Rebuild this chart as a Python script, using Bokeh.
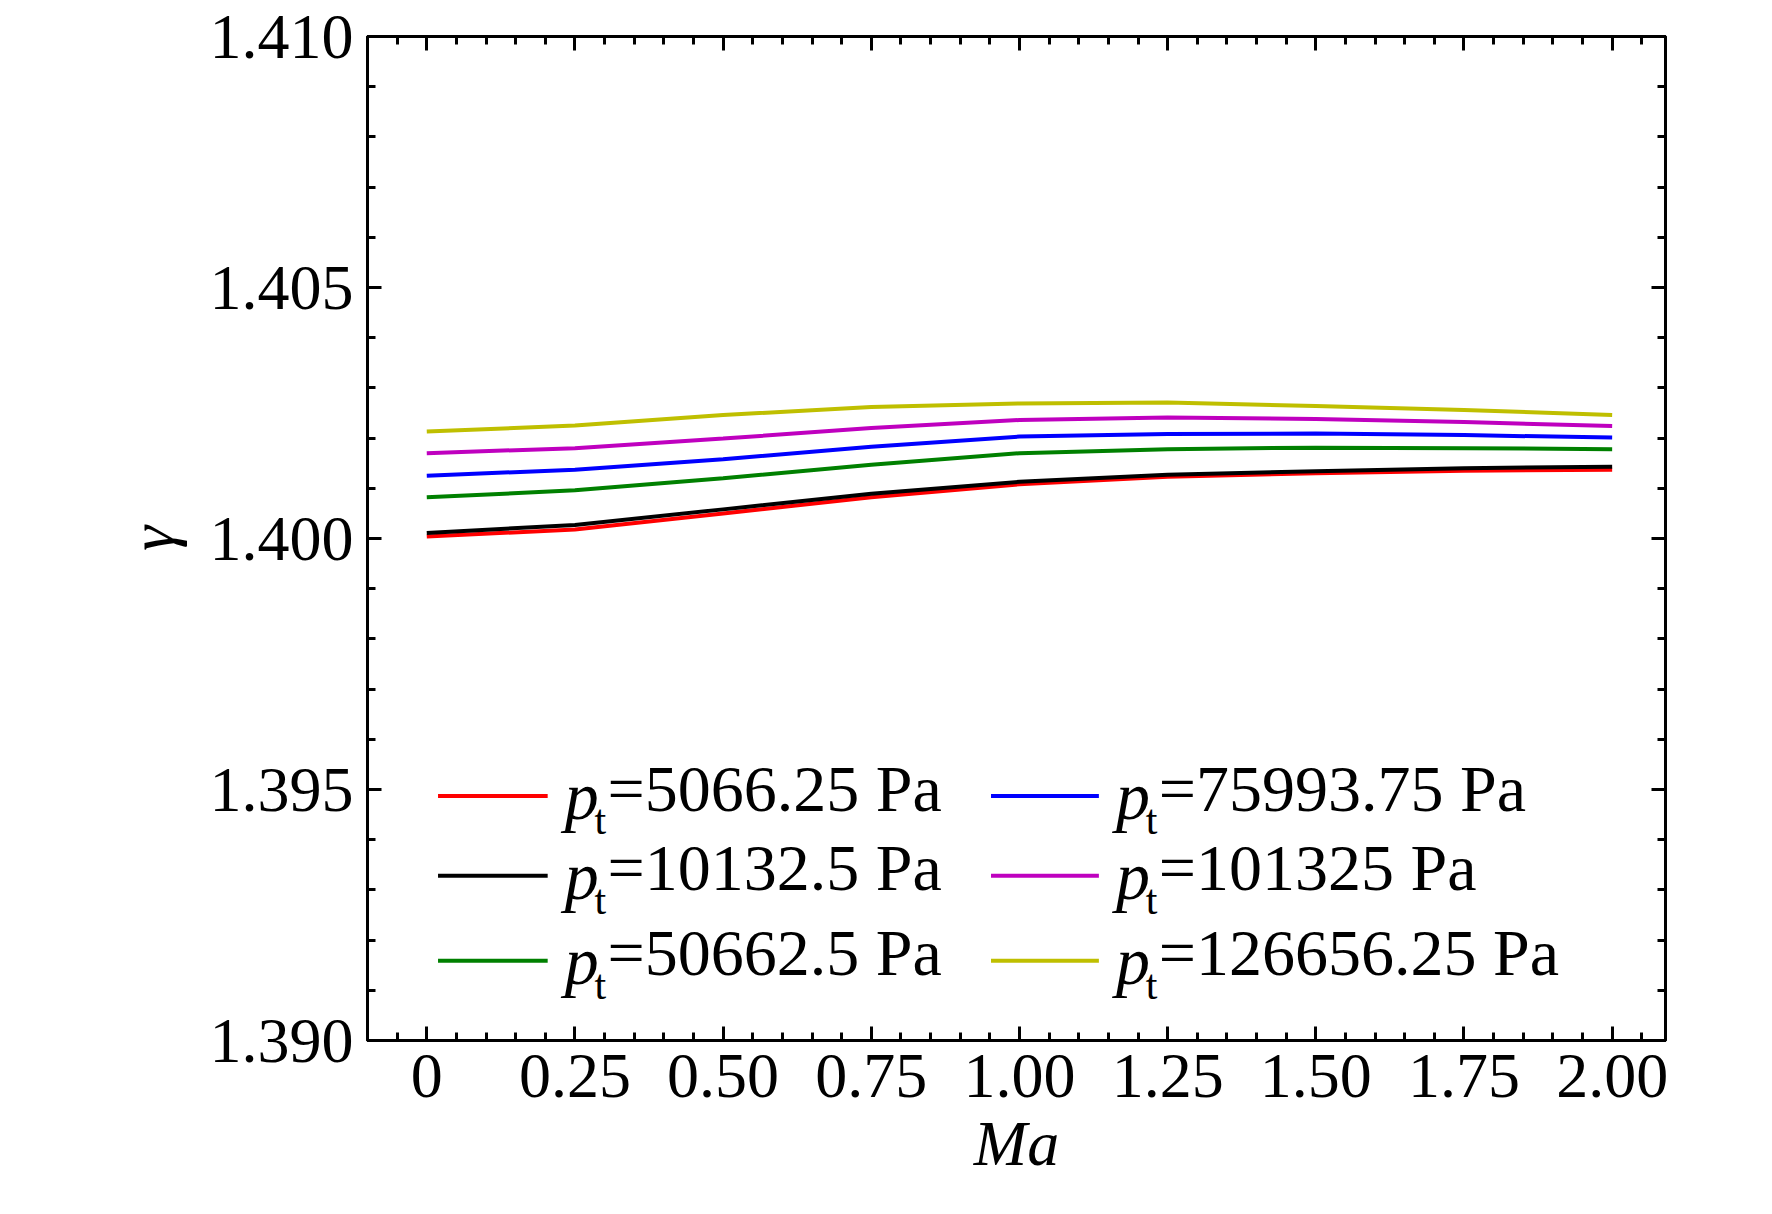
from bokeh.plotting import figure
from bokeh.embed import file_html
from bokeh.resources import INLINE
from bokeh.models import Range1d, FixedTicker, LinearAxis, PrintfTickFormatter
from bokeh.core.properties import value

ma = [0, 0.25, 0.5, 0.75, 1.0, 1.25, 1.5, 1.75, 2.0]
g_5066 = [1.40004, 1.40018, 1.40050, 1.40082, 1.40108, 1.40123, 1.40130, 1.40135, 1.40137]
g_10132 = [1.40011, 1.40027, 1.40058, 1.40089, 1.40113, 1.40127, 1.40134, 1.40140, 1.40143]
g_50662 = [1.40082, 1.40096, 1.40120, 1.40147, 1.40170, 1.40178, 1.40181, 1.40180, 1.40178]
g_75993 = [1.40125, 1.40137, 1.40158, 1.40183, 1.40203, 1.40208, 1.40209, 1.40206, 1.40201]
g_101325 = [1.40170, 1.40180, 1.40199, 1.40220, 1.40236, 1.40241, 1.40238, 1.40232, 1.40224]
g_126656 = [1.40213, 1.40225, 1.40246, 1.40262, 1.40269, 1.40271, 1.40264, 1.40256, 1.40246]
series = [g_5066, g_10132, g_50662, g_75993, g_101325, g_126656]
labels = ["=5066.25 Pa", "=10132.5 Pa", "=50662.5 Pa", "=75993.75 Pa", "=101325 Pa", "=126656.25 Pa"]
colors = ["#ff0000", "#000000", "#008000", "#0000ff", "#bf00bf", "#bfbf00"]
xticks = [0, 0.25, 0.5, 0.75, 1.0, 1.25, 1.5, 1.75, 2.0]
xtick_labels = {0: "0", 0.25: "0.25", 0.5: "0.50", 0.75: "0.75", 1.0: "1.00", 1.25: "1.25", 1.5: "1.50", 1.75: "1.75", 2.0: "2.00"}
yticks = [1.390, 1.395, 1.400, 1.405, 1.410]

FONT = "Liberation Serif"
p = figure(width=1756, height=1190, output_backend="svg", toolbar_location=None,
           x_range=Range1d(-0.10, 2.09), y_range=Range1d(1.390, 1.410),
           min_border_left=367, min_border_right=91, min_border_top=36, min_border_bottom=150)
p.xgrid.visible = False
p.ygrid.visible = False
p.outline_line_color = "black"
p.outline_line_width = 3

for ax in [p.xaxis[0], p.yaxis[0]]:
    ax.major_tick_in = 14; ax.major_tick_out = 0
    ax.minor_tick_in = 8; ax.minor_tick_out = 0
    ax.axis_line_width = 3; ax.major_tick_line_width = 3; ax.minor_tick_line_width = 3
    ax.major_label_text_font = FONT
    ax.major_label_text_font_size = "64px"
    ax.major_label_text_color = "black"
    ax.axis_label_text_font = FONT
    ax.axis_label_text_font_size = "64px"
    ax.axis_label_text_color = "black"
    ax.axis_label_text_font_style = "italic"
    ax.major_label_standoff = 14

p.xaxis.ticker = FixedTicker(ticks=xticks, minor_ticks=[i * 0.05 for i in range(-2, 42)])
p.xaxis.major_label_overrides = xtick_labels
p.xaxis.axis_label = "Ma"
p.xaxis.axis_label_standoff = 8
p.yaxis.ticker = FixedTicker(ticks=yticks, minor_ticks=[1.390 + i * 0.001 for i in range(21)])
p.yaxis.formatter = PrintfTickFormatter(format="%.3f")
p.yaxis.axis_label = "γ"
p.yaxis.axis_label_standoff = 20

for side in ["right", "above"]:
    ax = LinearAxis(major_label_text_font_size="10px", major_label_text_alpha=0, axis_line_width=3,
                    major_tick_in=14, major_tick_out=0, minor_tick_in=8, minor_tick_out=0,
                    major_tick_line_width=3, minor_tick_line_width=3, major_label_standoff=0)
    if side == "right":
        ax.ticker = FixedTicker(ticks=yticks, minor_ticks=[1.390 + i * 0.001 for i in range(21)])
    else:
        ax.ticker = FixedTicker(ticks=xticks, minor_ticks=[i * 0.05 for i in range(-2, 42)])
    ax.major_label_overrides = {t: "" for t in (yticks if side == "right" else xticks)}
    p.add_layout(ax, side)

for s, c in zip(series, colors):
    p.line(ma, s, line_color=c, line_width=4)

# manual legend
rows = [1.39487, 1.39328, 1.39159]
cols = [(0.019, 0.204, 0.233, 0.305), (0.952, 1.134, 1.163, 1.235)]
for i, (lab, c) in enumerate(zip(labels, colors)):
    x0, x1, xp, xt = cols[i // 3]
    y = rows[i % 3]
    p.segment(x0=[x0], y0=[y], x1=[x1], y1=[y], line_color=c, line_width=4)
    p.text(x=[xp], y=[y], text=["p"], text_font=value(FONT), text_font_style="italic",
           text_font_size="68px", text_baseline="middle", text_align="left")
    p.text(x=[xp + 0.05], y=[y], y_offset=24, text=["t"], text_font=value(FONT),
           text_font_size="42px", text_baseline="middle", text_align="left")
    p.text(x=[xt], y=[y], y_offset=-8, text=[lab], text_font=value(FONT),
           text_font_size="66px", text_baseline="middle", text_align="left")

open("out.html", "w").write(file_html(p, INLINE))
